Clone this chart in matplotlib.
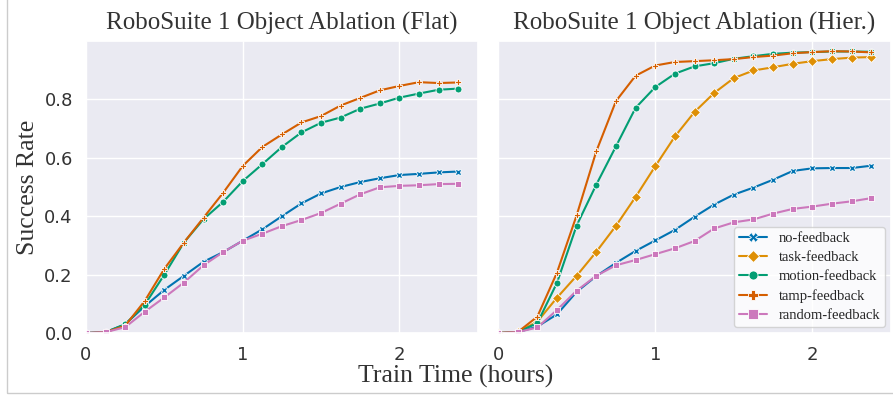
import numpy as np
import seaborn as sns
import matplotlib.pyplot as plt
from matplotlib.patches import Rectangle

sns.set_theme(style="darkgrid")
plt.rcParams['font.family'] = ['DejaVu Sans']
pal = sns.color_palette("colorblind")

# Training time (hours)
hours = [0.0, 0.125, 0.25, 0.375, 0.5, 0.625, 0.75, 0.875, 1.0, 1.125,
         1.25, 1.375, 1.5, 1.625, 1.75, 1.875, 2.0, 2.125, 2.25, 2.375]

# Flat
flat_no = [0.0, 0.003, 0.03, 0.092, 0.148, 0.196, 0.244, 0.277, 0.316, 0.355,
           0.40, 0.444, 0.478, 0.50, 0.517, 0.53, 0.541, 0.545, 0.55, 0.553]
flat_motion = [0.0, 0.003, 0.03, 0.097, 0.20, 0.31, 0.39, 0.449, 0.52, 0.578,
               0.637, 0.687, 0.72, 0.738, 0.768, 0.786, 0.806, 0.82, 0.833, 0.837]
flat_tamp = [0.0, 0.003, 0.025, 0.11, 0.22, 0.31, 0.395, 0.48, 0.572, 0.637,
             0.68, 0.721, 0.743, 0.779, 0.805, 0.831, 0.846, 0.859, 0.856, 0.858]
flat_random = [0.0, 0.003, 0.02, 0.073, 0.122, 0.173, 0.232, 0.277, 0.316, 0.34,
               0.366, 0.387, 0.411, 0.443, 0.475, 0.499, 0.504, 0.506, 0.51, 0.511]

# Hierarchical
hier_no = [0.0, 0.003, 0.022, 0.064, 0.141, 0.195, 0.24, 0.281, 0.317, 0.353,
           0.398, 0.44, 0.474, 0.498, 0.525, 0.555, 0.564, 0.565, 0.565, 0.573]
hier_task = [0.0, 0.003, 0.039, 0.121, 0.196, 0.278, 0.367, 0.466, 0.571, 0.673,
             0.757, 0.822, 0.873, 0.899, 0.91, 0.922, 0.931, 0.938, 0.943, 0.945]
hier_motion = [0.0, 0.003, 0.034, 0.172, 0.368, 0.508, 0.639, 0.771, 0.842, 0.888,
               0.913, 0.924, 0.939, 0.948, 0.956, 0.96, 0.962, 0.964, 0.964, 0.963]
hier_tamp = [0.0, 0.003, 0.056, 0.207, 0.403, 0.622, 0.794, 0.881, 0.916, 0.928,
             0.931, 0.934, 0.938, 0.945, 0.95, 0.958, 0.962, 0.965, 0.964, 0.961]
hier_random = [0.0, 0.003, 0.019, 0.079, 0.145, 0.196, 0.232, 0.25, 0.27, 0.29,
               0.315, 0.358, 0.379, 0.389, 0.409, 0.425, 0.433, 0.443, 0.451, 0.462]

styles = {
    "no-feedback": (pal[0], "X"),
    "task-feedback": (pal[1], "D"),
    "motion-feedback": (pal[2], "o"),
    "tamp-feedback": (pal[3], "P"),
    "random-feedback": (pal[4], "s"),
}

panels = [
    ("RoboSuite 1 Object Ablation (Flat)",
     {"no-feedback": flat_no, "motion-feedback": flat_motion,
      "tamp-feedback": flat_tamp, "random-feedback": flat_random}),
    ("RoboSuite 1 Object Ablation (Hier.)",
     {"no-feedback": hier_no, "task-feedback": hier_task,
      "motion-feedback": hier_motion, "tamp-feedback": hier_tamp,
      "random-feedback": hier_random}),
]

serif = ["Liberation Serif", "DejaVu Serif"]

fig = plt.figure(figsize=(8.93, 3.96), dpi=100)
ax1 = fig.add_axes([0.0963, 0.159, 0.4387, 0.7375])
ax2 = fig.add_axes([0.5577, 0.159, 0.4401, 0.7375], sharey=ax1)

for ax, (title, series) in zip([ax1, ax2], panels):
    for name, vals in series.items():
        color, marker = styles[name]
        ax.plot(hours, vals, color=color, marker=marker, markersize=5,
                markeredgecolor="white", markeredgewidth=0.6, lw=1.5, label=name)
    ax.set_title(title, family=serif, fontsize=18, color="#333333", pad=8)
    ax.set_xlim(0, 2.5)
    ax.set_ylim(0, 1.0)
    ax.set_xticks([0, 1, 2])
    ax.set_yticks([0.0, 0.2, 0.4, 0.6, 0.8])
    ax.tick_params(labelsize=13, colors="#333333")

plt.setp(ax2.get_yticklabels(), visible=False)
ax1.set_ylabel("Success Rate", family=serif, fontsize=18.5, color="#333333")
fig.text(0.51, 0.033, "Train Time (hours)", family=serif, fontsize=18.5,
         color="#333333", ha="center")

leg = ax2.legend(loc="lower right", prop={"family": serif, "size": 10.5},
                 frameon=True, handlelength=1.9, borderpad=0.35, labelspacing=0.4,
                 markerscale=1.3, borderaxespad=0.4)
leg.get_frame().set_facecolor("white")

fig.patches.append(Rectangle((0.008, 0.008), 1.2, 1.2, transform=fig.transFigure,
                             fill=False, edgecolor="#cccccc", lw=1))

fig.savefig("out.png", dpi=100)
